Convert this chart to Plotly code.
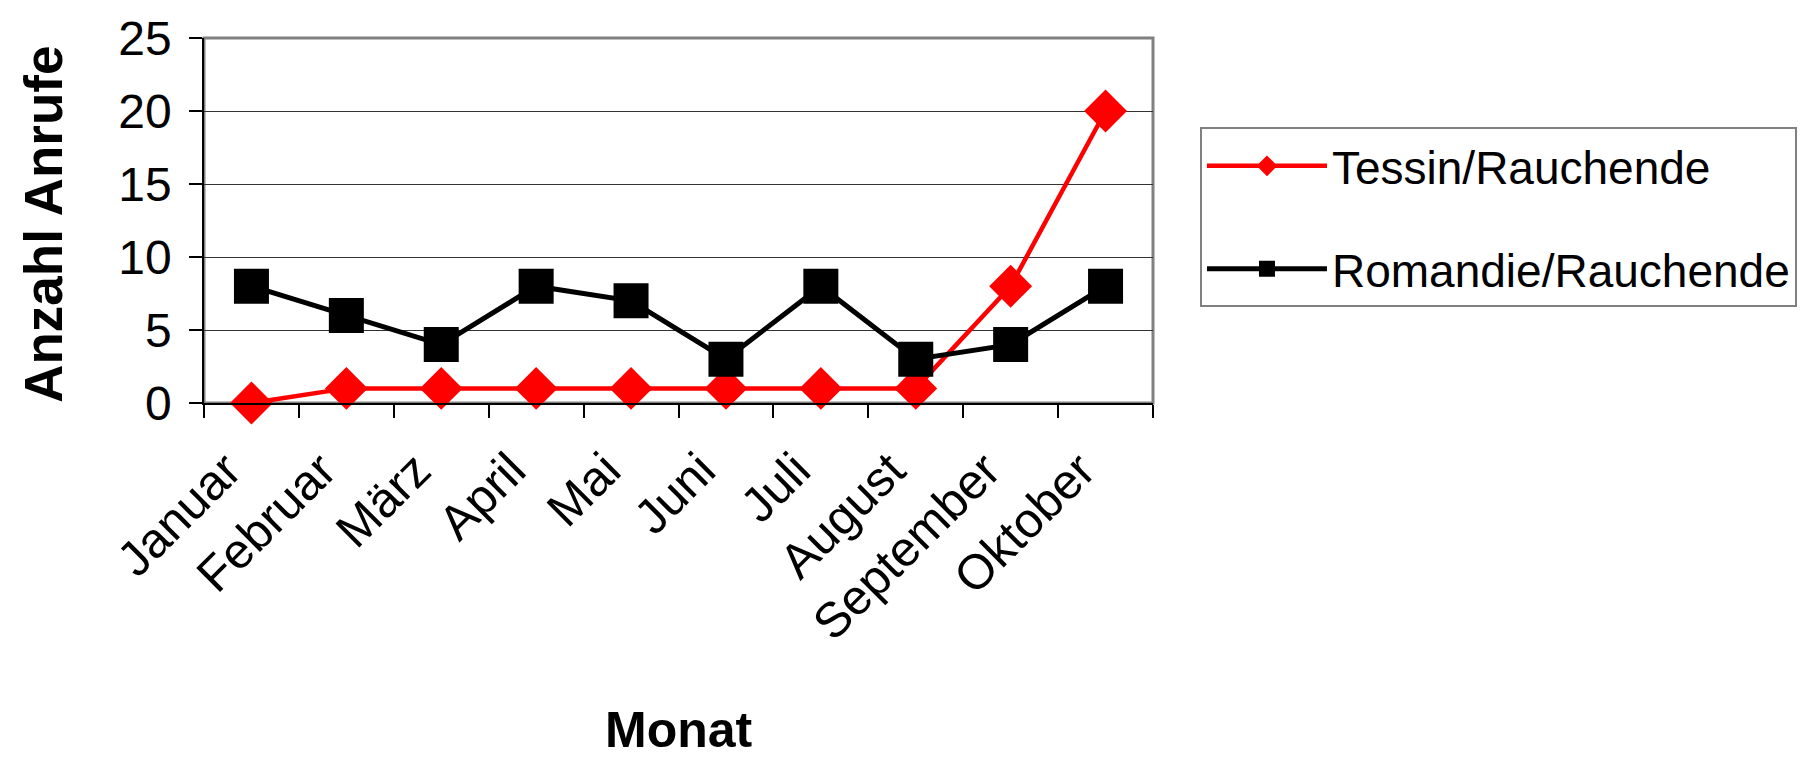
import plotly.graph_objects as go

# Monthly call counts per region (smokers)
monate = ["Januar", "Februar", "März", "April", "Mai", "Juni",
          "Juli", "August", "September", "Oktober"]
tessin = [0, 1, 1, 1, 1, 1, 1, 1, 8, 20]
romandie = [8, 6, 4, 8, 7, 3, 8, 3, 4, 8]
y_ticks = [0, 5, 10, 15, 20, 25]

FONT = "Liberation Sans, Arial, sans-serif"

fig = go.Figure()
fig.add_trace(go.Scatter(
    x=monate, y=tessin, name="Tessin/Rauchende", mode="lines+markers",
    legendgroup="tessin",
    line=dict(color="#ff0000", width=4.5),
    marker=dict(symbol="diamond", size=33, color="#ff0000"),
    cliponaxis=False,
))
fig.add_trace(go.Scatter(
    x=monate, y=romandie, name="Romandie/Rauchende", mode="lines+markers",
    legendgroup="romandie",
    line=dict(color="#000000", width=5),
    marker=dict(symbol="square", size=35, color="#000000"),
    cliponaxis=False,
))

fig.update_layout(
    width=1812, height=760,
    margin=dict(l=204, r=659, t=33, b=357),
    paper_bgcolor="white", plot_bgcolor="white",
    font=dict(family=FONT, color="black"),
    showlegend=True,
    legend=dict(
        x=1.0495, y=0.755, xanchor="left", yanchor="top",
        font=dict(size=46, family=FONT),
        bordercolor="#808080", borderwidth=2, bgcolor="white",
        itemwidth=120,
        traceorder="grouped",
        tracegroupgap=40,
    ),
    xaxis=dict(
        type="category", range=[-0.5, 9.5],
        showgrid=False, tickson="boundaries",
        ticks="outside", ticklen=13, tickcolor="black", tickwidth=1.5,
        showline=True, linecolor="black", linewidth=1.5,
        tickangle=-45, tickfont=dict(size=49, family=FONT),
        ticklabelstandoff=17, ticklabelshift=-25,
    ),
    yaxis=dict(
        range=[0, 25], tickvals=y_ticks,
        showgrid=True, gridcolor="#333333", gridwidth=1.2,
        ticks="outside", ticklen=13, tickcolor="black", tickwidth=1.5,
        showline=True, linecolor="black", linewidth=1.5,
        tickfont=dict(size=48, family=FONT),
        ticklabelstandoff=8, zeroline=False,
    ),
    annotations=[
        dict(text="<b>Anzahl Anrufe</b>", xref="paper", yref="paper",
             x=-0.17, y=0.49, xanchor="center", yanchor="middle",
             textangle=-90, showarrow=False,
             font=dict(size=53, family=FONT)),
        dict(text="<b>Monat</b>", xref="paper", yref="paper",
             x=0.5, y=-0.895, xanchor="center", yanchor="middle",
             showarrow=False, font=dict(size=50, family=FONT)),
    ],
    shapes=[
        dict(type="rect", xref="paper", yref="paper", x0=0, x1=1, y0=0, y1=1,
             line=dict(color="#808080", width=3), layer="below"),
    ],
)

fig.write_html("out.html")
